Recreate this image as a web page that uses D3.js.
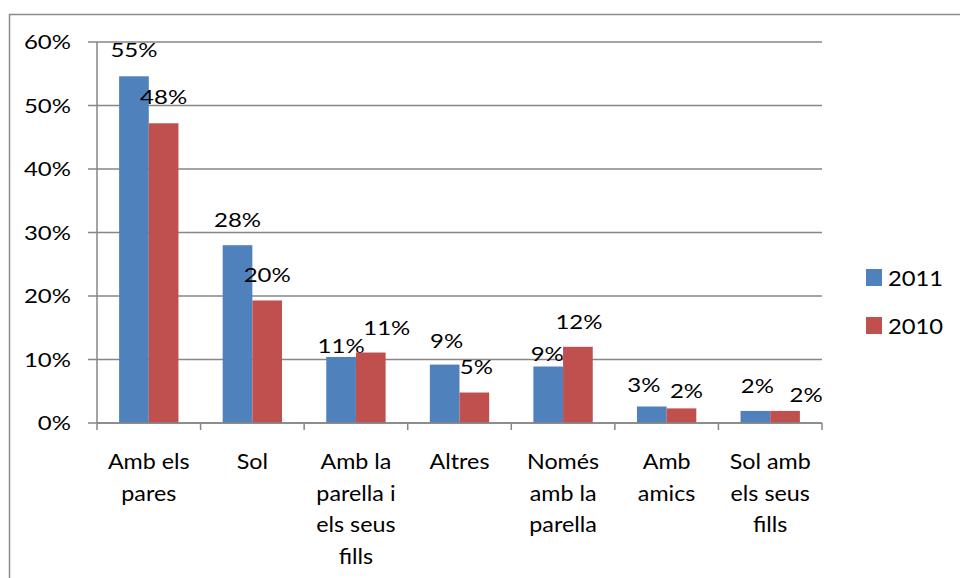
<!DOCTYPE html>
<meta charset="utf-8">
<head>
<script src="https://d3js.org/d3.v7.min.js"></script>
<style>
  body { margin: 0; background: #fff; }
  text { font-family: Lato, "Open Sans", sans-serif; fill: #000; }
  .num { font-size: 20px; }
  .cat { font-size: 22px; }
  .leg { font-size: 22px; }
</style>
</head>
<body>
<script>
"use strict";
// values (percent)
var categories = ["Amb els pares", "Sol", "Amb la parella i els seus fills", "Altres",
                  "Només amb la parella", "Amb amics", "Sol amb els seus fills"];
var catLines = [["Amb els", "pares"], ["Sol"], ["Amb la", "parella i", "els seus", "fills"], ["Altres"],
                ["Només", "amb la", "parella"], ["Amb", "amics"], ["Sol amb", "els seus", "fills"]];
var series = ["2011", "2010"];
var values2011 = [54.6, 28.0, 10.4, 9.2, 8.9, 2.6, 1.9];
var values2010 = [47.2, 19.3, 11.1, 4.8, 12.0, 2.3, 1.9];
var labels2011 = ["55%", "28%", "11%", "9%", "9%", "3%", "2%"];
var labels2010 = ["48%", "20%", "11%", "5%", "12%", "2%", "2%"];
var yTicks = [0, 10, 20, 30, 40, 50, 60];

// hand-placed label nudges in the original (dx, dy from bar top)
var nudge2011 = [[0, -19], [0, -18], [0, -4], [2, -17], [-1, -5], [-8, -14], [2, -18]];
var nudge2010 = [[0, -19], [0, -18], [16, -18], [2, -19], [1, -18], [5, -10], [21, -9]];

var colors = ["#4F81BD", "#C0504D"];
var width = 960, height = 578;
var pLeft = 97, pRight = 822, pTop = 42, pBottom = 423;
// the source picture is stretched sideways a little; text follows that
var numStretch = 1.2, catStretch = 1.06, legStretch = 1.08;

var svg = d3.select("body").append("svg")
    .attr("width", width).attr("height", height);

function place(tx, ty, sx) {
  return "translate(" + tx + "," + ty + ") scale(" + sx + ",1)";
}

// outer chart border (runs off the picture on right and bottom)
svg.append("rect")
    .attr("x", 9.5).attr("y", 14.5)
    .attr("width", 1000).attr("height", 700)
    .attr("fill", "none").attr("stroke", "#8c8c8c").attr("stroke-width", 1.5);

var x = d3.scaleBand().domain(categories).range([pLeft, pRight]);
var xs = d3.scaleBand().domain(series).range([0, x.bandwidth()]).paddingOuter(0.745).paddingInner(0);
var y = d3.scaleLinear().domain([0, 60]).range([pBottom, pTop]);

// gridlines + y ticks
svg.append("g").selectAll("line").data(yTicks).enter().append("line")
    .attr("x1", pLeft - 9).attr("x2", pRight)
    .attr("y1", d => y(d)).attr("y2", d => y(d))
    .attr("stroke", "#868686").attr("stroke-width", 1.5);

svg.append("g").selectAll("text").data(yTicks).enter().append("text")
    .attr("class", "num")
    .attr("transform", d => place(71, y(d), numStretch))
    .attr("dy", "0.36em")
    .attr("text-anchor", "end")
    .text(d => d + "%");

// y axis line
svg.append("line")
    .attr("x1", pLeft).attr("x2", pLeft).attr("y1", pTop).attr("y2", pBottom)
    .attr("stroke", "#868686").attr("stroke-width", 1.5);

// x tick marks
var xt = categories.map(c => x(c)).concat([pRight]);
svg.append("g").selectAll("line").data(xt).enter().append("line")
    .attr("x1", d => d).attr("x2", d => d)
    .attr("y1", pBottom).attr("y2", pBottom + 7)
    .attr("stroke", "#868686").attr("stroke-width", 1.5);

var data = [values2011, values2010];
var labels = [labels2011, labels2010];
var nudges = [nudge2011, nudge2010];

series.forEach(function(s, si) {
  var g = svg.append("g");
  g.selectAll("rect").data(data[si]).enter().append("rect")
      .attr("x", (d, i) => x(categories[i]) + xs(s))
      .attr("y", d => y(d))
      .attr("width", xs.bandwidth())
      .attr("height", d => y(0) - y(d))
      .attr("fill", colors[si]);
  g.selectAll("text").data(data[si]).enter().append("text")
      .attr("class", "num")
      .attr("transform", (d, i) => place(
          x(categories[i]) + xs(s) + xs.bandwidth() / 2 + nudges[si][i][0],
          y(d) + nudges[si][i][1], numStretch))
      .attr("text-anchor", "middle")
      .text((d, i) => labels[si][i]);
});

// x axis base line drawn over bars
svg.append("line")
    .attr("x1", pLeft).attr("x2", pRight).attr("y1", pBottom).attr("y2", pBottom)
    .attr("stroke", "#868686").attr("stroke-width", 1.5);

// category labels
var cl = svg.append("g").selectAll("text").data(categories).enter().append("text")
    .attr("class", "cat")
    .attr("transform", d => place(x(d) + x.bandwidth() / 2, 469, catStretch))
    .attr("text-anchor", "middle");
cl.selectAll("tspan").data((d, i) => catLines[i]).enter().append("tspan")
    .attr("x", 0)
    .attr("dy", (d, j) => j === 0 ? 0 : 31.7)
    .text(d => d);

// legend
var lg = svg.append("g").selectAll("g").data(series).enter().append("g")
    .attr("transform", (d, i) => "translate(866," + (269 + i * 48) + ")");
lg.append("rect").attr("width", 16).attr("height", 17).attr("fill", (d, i) => colors[i]);
lg.append("text").attr("class", "leg")
    .attr("transform", place(22, 17, legStretch))
    .text(d => d);
</script>
</body>
